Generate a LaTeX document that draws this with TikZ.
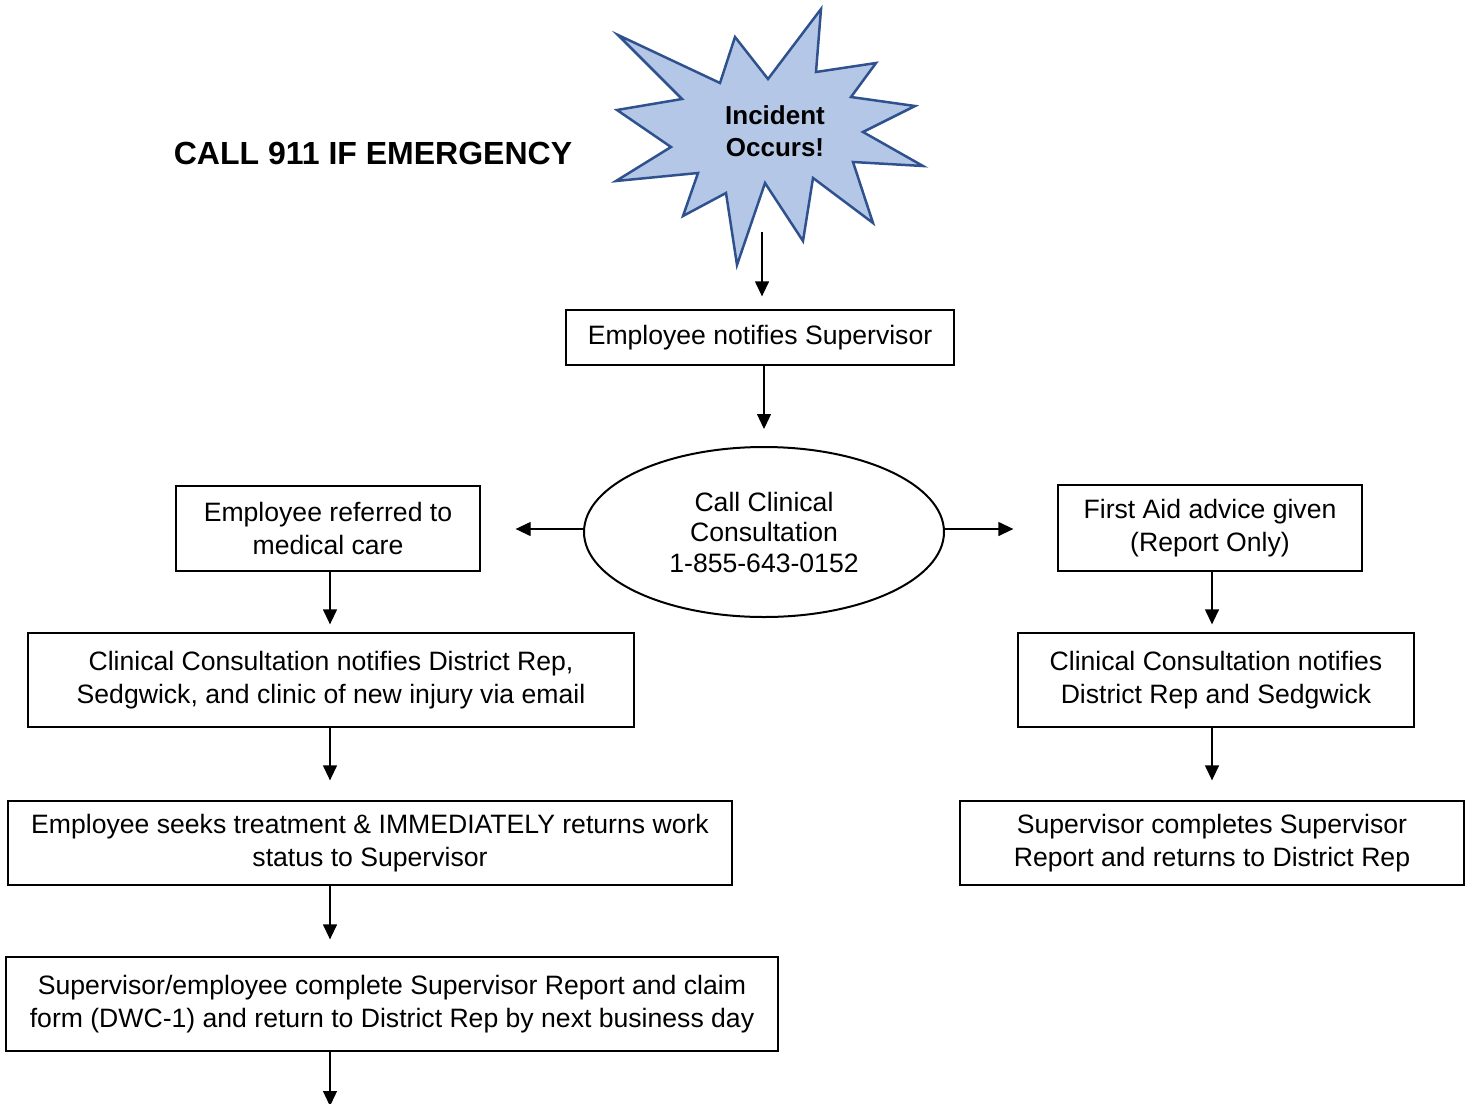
\documentclass[tikz,border=0pt]{standalone}
\usepackage{fontspec}
\setmainfont{Liberation Sans}
\usetikzlibrary{arrows.meta,shapes.geometric}
\definecolor{burstfill}{HTML}{B4C7E7}
\definecolor{burstline}{HTML}{2F528F}
\begin{document}
\begin{tikzpicture}[x=1pt,y=-1pt,
  box/.style={draw=black,line width=1.3pt,rectangle,inner sep=0pt,align=center,
    font=\fontsize{26.6}{33}\selectfont},
  arr/.style={-{Triangle[length=15pt,width=14pt]},line width=1.3pt,black}]
\useasboundingbox (0,0) rectangle (1472,1103);
% starburst
\draw[line width=2.5pt,line join=miter,fill=burstfill,draw=burstline]
 (618,35) -- (720,83) -- (735,37) -- (768,79) -- (821,9) -- (816,72) -- (876,63) -- (851,97)
 -- (915,106) -- (863,132) -- (923,166) -- (853,162) -- (873,223) -- (813,178) -- (803,241)
 -- (765,183) -- (737,265) -- (726,193) -- (683,216) -- (698,173) -- (616,181) -- (671,147)
 -- (617,110) -- (682,99) -- cycle;
\node[align=center,font=\bfseries\fontsize{26}{32}\selectfont] (inc) at (775,131) {Incident\\Occurs!};
\node[font=\bfseries\fontsize{32}{36}\selectfont] (call) at (373,153) {CALL 911 IF EMERGENCY};
\coordinate (incbot) at (762,232);
% boxes
\node[box,minimum width=388pt,minimum height=55pt] (ens) at (760,337.5) {Employee notifies Supervisor};
\node[draw=black,line width=2pt,ellipse,minimum width=360pt,minimum height=170pt,inner sep=0pt,align=center,
  font=\fontsize{26.6}{30.5}\selectfont] (ell) at (764,532) {Call Clinical\\Consultation\\1-855-643-0152};
\node[box,minimum width=304pt,minimum height=85pt] (b1) at (328,528.5) {Employee referred to\\medical care};
\node[box,minimum width=606pt,minimum height=94pt] (b2) at (331,680) {Clinical Consultation notifies District Rep,\\Sedgwick, and clinic of new injury via email};
\node[box,minimum width=724pt,minimum height=84pt] (b3) at (370,843) {Employee seeks treatment \& IMMEDIATELY returns work\\status to Supervisor};
\node[box,minimum width=772pt,minimum height=94pt] (b4) at (392,1004) {Supervisor/employee complete Supervisor Report and claim\\form (DWC-1) and return to District Rep by next business day};
\node[box,minimum width=304pt,minimum height=86pt] (r1) at (1210,528) {First Aid advice given\\(Report Only)};
\node[box,minimum width=396pt,minimum height=94pt] (r2) at (1216,680) {Clinical Consultation notifies\\District Rep and Sedgwick};
\node[box,minimum width=504pt,minimum height=84pt] (r3) at (1212,843) {Supervisor completes Supervisor\\Report and returns to District Rep};
\coordinate (lx) at (330,0);
\coordinate (rx) at (1212,0);
\coordinate (my) at (0,529);
\coordinate (endl) at (330,1106);
% arrows
\draw[arr,shorten >=13pt] (incbot) -- (incbot |- ens.north);
\draw[arr,shorten >=17pt] (ell.north |- ens.south) -- (ell.north);
\draw[arr,shorten >=35pt] (ell.west |- my) -- (b1.east |- my);
\draw[arr,shorten >=44pt] (ell.east |- my) -- (r1.west |- my);
\draw[arr,shorten >=8pt] (b1.south -| lx) -- (b2.north -| lx);
\draw[arr,shorten >=20pt] (b2.south -| lx) -- (b3.north -| lx);
\draw[arr,shorten >=17pt] (b3.south -| lx) -- (b4.north -| lx);
\draw[arr] (b4.south -| lx) -- (endl);
\draw[arr,shorten >=8pt] (r1.south -| rx) -- (r2.north -| rx);
\draw[arr,shorten >=20pt] (r2.south -| rx) -- (r3.north -| rx);
\end{tikzpicture}
\end{document}
